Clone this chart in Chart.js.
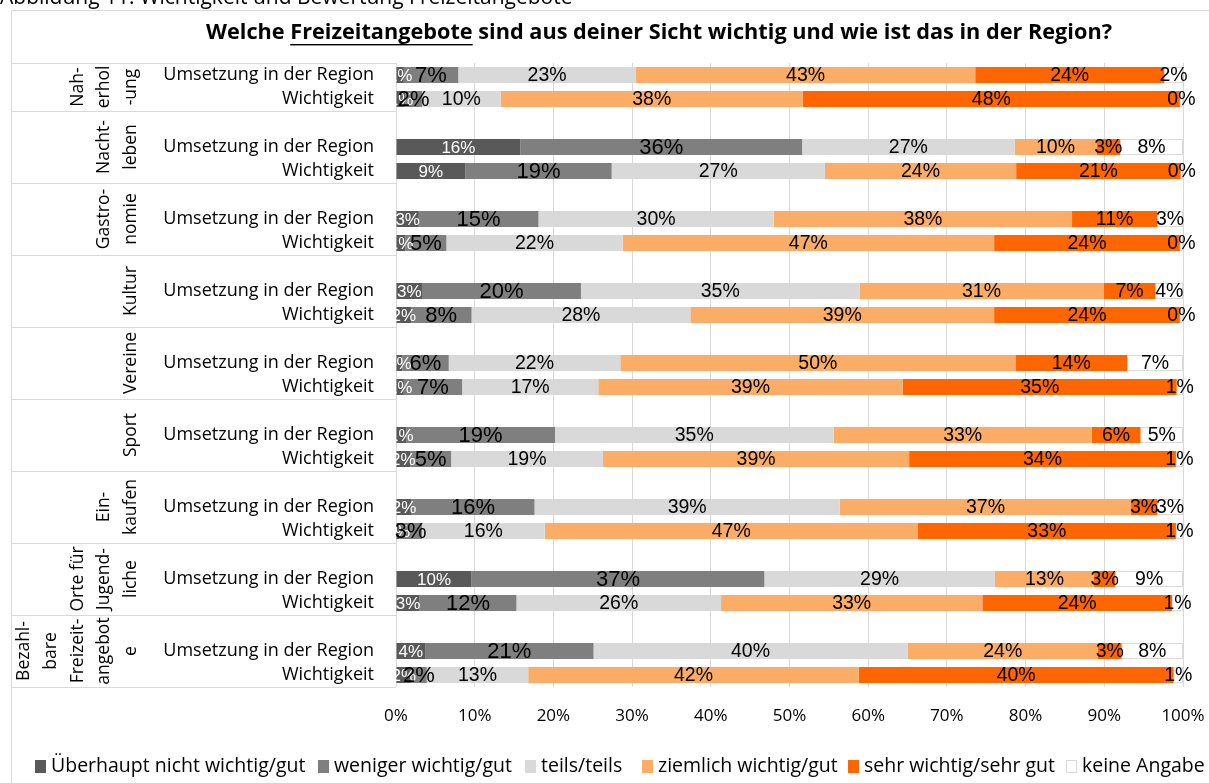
<!DOCTYPE html>
<html>
<head>
<meta charset="utf-8">
<script src="https://cdn.jsdelivr.net/npm/chart.js@4/dist/chart.umd.min.js"></script>
<style>
  html, body { margin: 0; padding: 0; background: #ffffff; }
  #wrap { width: 1209px; height: 783px; position: relative; overflow: hidden; }
</style>
</head>
<body>
<div id="wrap"><canvas id="c" width="1209" height="783"></canvas></div>
<script>
// ---------- DATA ----------
const caption = 'Abbildung 11: Wichtigkeit und Bewertung Freizeitangebote';
const titleParts = ['Welche ', 'Freizeitangebote', ' sind aus deiner Sicht wichtig und wie ist das in der Region?'];

const groups = [
  ['Nah-', 'erhol', '-ung'],
  ['Nacht-', 'leben'],
  ['Gastro-', 'nomie'],
  ['Kultur'],
  ['Vereine'],
  ['Sport'],
  ['Ein-', 'kaufen'],
  ['Orte für', 'Jugend-', 'liche'],
  ['Bezahl-', 'bare', 'Freizeit-', 'angebot', 'e']
];
const subLabels = ['Umsetzung in der Region', 'Wichtigkeit'];

const seriesNames = ['Überhaupt nicht wichtig/gut', 'weniger wichtig/gut', 'teils/teils',
                     'ziemlich wichtig/gut', 'sehr wichtig/sehr gut', 'keine Angabe'];

// 18 rows, top to bottom: per group "Umsetzung in der Region", then "Wichtigkeit"
const ueberhaupt = [1.0, 1.2, 15.8, 8.8, 2.9, 1.2, 3.3, 1.9, 0.8, 1.0, 1.3, 1.8, 2.0, 0.4, 9.6, 3.0, 3.7, 1.9];
const weniger    = [6.9, 2.1, 35.8, 18.6, 15.2, 5.2, 20.2, 7.7, 5.9, 7.4, 18.9, 5.2, 15.6, 2.9, 37.2, 12.3, 21.4, 2.0];
const teils      = [22.6, 10.0, 27.0, 27.1, 29.9, 22.4, 35.4, 27.8, 21.8, 17.3, 35.4, 19.3, 38.8, 15.6, 29.3, 26.0, 39.9, 12.9];
const ziemlich   = [43.1, 38.4, 10.4, 24.3, 37.9, 47.2, 31.0, 38.6, 50.2, 38.7, 32.8, 38.9, 37.0, 47.4, 12.6, 33.2, 24.2, 42.0];
const sehr       = [24.0, 47.9, 3.0, 20.9, 10.8, 23.6, 6.6, 23.6, 14.2, 34.8, 6.2, 33.9, 3.3, 32.8, 2.7, 24.1, 3.0, 40.0];
const keine      = [2.4, 0.4, 8.0, 0.3, 3.3, 0.4, 3.5, 0.4, 7.1, 0.8, 5.4, 0.9, 3.3, 0.9, 8.6, 1.4, 7.8, 1.2];

const xTicks = [0, 10, 20, 30, 40, 50, 60, 70, 80, 90, 100];

// ---------- STYLE ----------
const colors = ['#595959', '#7f7f7f', '#d9d9d9', '#fbad68', '#ff6600', '#ffffff'];
const labelColors = ['#ffffff', '#000000', '#000000', '#000000', '#000000', '#000000'];
const labelSizes = [17, 22, 19.5, 19.5, 19.5, 19.5];
const UI_FONT = '"Open Sans", "Noto Sans", sans-serif';
const LABEL_FONT = '"Liberation Sans", Arial, sans-serif';

// ---------- BUILD SLOTS (blank row between groups, none above first) ----------
const allSeries = [ueberhaupt, weniger, teils, ziemlich, sehr, keine];
const nRows = ueberhaupt.length;
function rowSlot(r) { return r < 2 ? r : 2 + Math.floor((r - 2) / 2) * 3 + 1 + ((r - 2) % 2); }
const nSlots = rowSlot(nRows - 1) + 1;
const slotLabels = new Array(nSlots).fill('');
for (let r = 0; r < nRows; r++) slotLabels[rowSlot(r)] = subLabels[r % 2];
function toSlots(arr) {
  const out = new Array(nSlots).fill(null);
  arr.forEach((v, r) => { out[rowSlot(r)] = v; });
  return out;
}
function groupSlots(g) {
  if (g === 0) return [0, 1];
  const s = 2 + (g - 1) * 3;
  return [s, s + 2];
}

const datasets = allSeries.map((arr, i) => ({
  label: seriesNames[i],
  data: toSlots(arr),
  backgroundColor: colors[i],
  borderColor: i === 5 ? '#d9d9d9' : colors[i],
  borderWidth: i === 5 ? 1 : 0,
  borderSkipped: false,
  barPercentage: 0.667,
  categoryPercentage: 1.0
}));

// ---------- PLUGIN: frame, title, group axis, data labels, legend ----------
const decor = {
  id: 'decor',
  beforeDraw(chart) {
    const ctx = chart.ctx;
    ctx.save();
    ctx.fillStyle = '#ffffff';
    ctx.fillRect(0, 0, chart.width, chart.height);
    // caption (cut at top)
    ctx.fillStyle = '#000000';
    ctx.font = '21px ' + UI_FONT;
    ctx.textBaseline = 'alphabetic';
    ctx.textAlign = 'left';
    ctx.fillText(caption, 0, 4);
    // frame
    ctx.strokeStyle = '#d9d9d9';
    ctx.lineWidth = 1;
    ctx.beginPath();
    ctx.moveTo(11.5, chart.height);
    ctx.lineTo(11.5, 10.5);
    ctx.lineTo(chart.width, 10.5);
    ctx.stroke();
    ctx.restore();
  },
  afterDraw(chart) {
    const ctx = chart.ctx;
    const yS = chart.scales.y;
    const area = chart.chartArea;
    ctx.save();
    // title
    ctx.font = 'bold 21.7px ' + UI_FONT;
    ctx.fillStyle = '#000000';
    ctx.textBaseline = 'middle';
    ctx.textAlign = 'left';
    const widths = titleParts.map(t => ctx.measureText(t).width);
    const total = widths.reduce((a, b) => a + b, 0);
    let tx = 659 - total / 2;
    const ty = 33;
    titleParts.forEach((t, i) => {
      ctx.fillText(t, tx, ty);
      if (i === 1) {
        ctx.fillRect(tx, ty + 11, widths[i], 1.4);
      }
      tx += widths[i];
    });

    // group separators and rotated group labels
    const half = (yS.getPixelForValue(1) - yS.getPixelForValue(0)) / 2;
    ctx.strokeStyle = '#d9d9d9';
    ctx.lineWidth = 1;
    const bounds = [];
    groups.forEach((g, gi) => {
      const [a, b] = groupSlots(gi);
      const top = yS.getPixelForValue(a) - half;
      const bot = yS.getPixelForValue(b) + half;
      bounds.push(top, bot);
      const cy = (top + bot) / 2;
      ctx.fillStyle = '#000000';
      ctx.font = '17.5px ' + UI_FONT;
      ctx.textAlign = 'center';
      ctx.textBaseline = 'middle';
      const n = g.length;
      g.forEach((line, li) => {
        const cx = 131 - (n - 1 - li) * 26.7;
        ctx.save();
        ctx.translate(cx, cy);
        ctx.rotate(-Math.PI / 2);
        ctx.fillText(line, 0, 0);
        ctx.restore();
      });
    });
    const uniq = [...new Set(bounds.map(v => Math.round(v)))];
    ctx.beginPath();
    uniq.forEach(y => { ctx.moveTo(12, y + 0.5); ctx.lineTo(area.left, y + 0.5); });
    ctx.stroke();

    // data labels
    chart.data.datasets.forEach((ds, i) => {
      const meta = chart.getDatasetMeta(i);
      ctx.font = labelSizes[i] + 'px ' + LABEL_FONT;
      ctx.fillStyle = labelColors[i];
      ctx.textAlign = 'center';
      ctx.textBaseline = 'middle';
      meta.data.forEach((el, j) => {
        const v = ds.data[j];
        if (v === null || v === undefined) return;
        const x = (el.x + el.base) / 2;
        ctx.fillText(Math.round(v) + '%', x, el.y + 1);
      });
    });

    // legend
    const legendX = [35, 318, 525, 642, 848, 1066];
    const ly = 766;
    ctx.font = '19.5px ' + UI_FONT;
    ctx.textAlign = 'left';
    ctx.textBaseline = 'middle';
    chart.data.datasets.forEach((ds, i) => {
      const bx = legendX[i];
      ctx.fillStyle = ds.backgroundColor;
      ctx.fillRect(bx, ly - 6, 11, 13);
      if (i === 5) {
        ctx.strokeStyle = '#d9d9d9';
        ctx.strokeRect(bx + 0.5, ly - 5.5, 10, 12);
      }
      ctx.fillStyle = '#000000';
      ctx.fillText(ds.label, bx + 16, ly);
    });
    ctx.restore();
  }
};

new Chart(document.getElementById('c'), {
  type: 'bar',
  data: { labels: slotLabels, datasets },
  options: {
    indexAxis: 'y',
    responsive: false,
    animation: false,
    devicePixelRatio: 1,
    layout: { padding: { left: 0, top: 63, right: 26, bottom: 0 } },
    plugins: { legend: { display: false }, title: { display: false }, tooltip: { enabled: false } },
    scales: {
      x: {
        stacked: true,
        min: 0, max: 100,
        afterFit(scale) { scale.height = 96; scale.paddingRight = 0; scale.paddingLeft = 0; },
        afterBuildTicks(scale) { scale.ticks = xTicks.map(v => ({ value: v })); },
        ticks: {
          callback: v => v + '%',
          color: '#000000',
          font: { family: UI_FONT, size: 17 },
          padding: 19,
          maxRotation: 0
        },
        grid: { color: '#d9d9d9', lineWidth: 1, drawTicks: false },
        border: { display: false }
      },
      y: {
        stacked: true,
        afterFit(scale) { scale.width = 396; scale.paddingTop = 0; scale.paddingBottom = 0; },
        ticks: {
          color: '#000000',
          font: { family: UI_FONT, size: 18 },
          padding: 22,
          autoSkip: false
        },
        grid: { display: false, drawTicks: false },
        border: { display: false }
      }
    }
  },
  plugins: [decor]
});
</script>
</body>
</html>
